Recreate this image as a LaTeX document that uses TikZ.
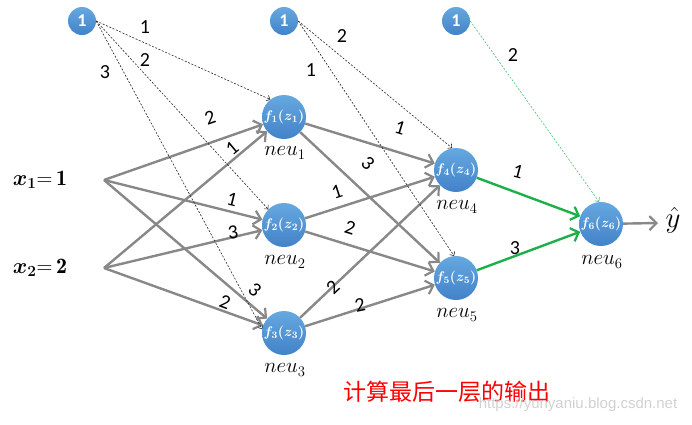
\RequirePackage{fix-cm}
\documentclass[tikz,border=0pt]{standalone}
\usepackage{amsmath}
\usepackage{bm}
\usepackage{fontspec}
\newfontfamily\cjk{Noto Sans CJK SC}
\newfontfamily\lab{Carlito}
\newfontfamily\wmfont{Liberation Sans}
\usetikzlibrary{arrows.meta}
\definecolor{nodetop}{HTML}{66A8E0}
\definecolor{nodebot}{HTML}{4282C8}
\definecolor{edgegray}{HTML}{888888}
\definecolor{edgegreen}{HTML}{1DAF4A}
\tikzset{
  neuron/.style={circle, minimum size=44pt, inner sep=0pt, top color=nodetop, bottom color=nodebot, text=white, font=\fontsize{14}{15}\selectfont},
  bias/.style={circle, minimum size=28pt, inner sep=0pt, top color=nodetop, bottom color=nodebot, text=white, font=\lab\bfseries\fontsize{18}{18}\selectfont},
  solidarrow/.style={draw=edgegray, line width=2.4pt, -{Straight Barb[length=7pt,width=14pt,line width=2.2pt]}},
  greenarrow/.style={draw=edgegreen, line width=2.4pt, -{Straight Barb[length=7pt,width=14pt,line width=2.2pt]}},
  biasarrow/.style={draw=black!85, line width=0.6pt, dash pattern=on 2pt off 1.6pt, -{Straight Barb[length=3pt,width=6pt,line width=0.6pt]}},
  greenbias/.style={draw=edgegreen!80, line width=0.6pt, dash pattern=on 2pt off 1.6pt, -{Straight Barb[length=3pt,width=6pt,line width=0.6pt]}},
  wlab/.style={font=\lab\fontsize{20}{20}\selectfont, inner sep=0pt},
  neulab/.style={font=\fontsize{21}{21}\selectfont, inner sep=0pt},
  inlab/.style={font=\fontsize{22}{22}\selectfont, inner sep=0pt},
}
\begin{document}
\begin{tikzpicture}[x=1pt,y=-1pt]
\useasboundingbox (0,0) rectangle (692,424);
% bias nodes
\node[bias] (b1) at (82,21) {1};
\node[bias] (b2) at (284,21) {1};
\node[bias] (b3) at (456,21) {1};
% neurons
\node[neuron] (n1) at (284,117) {$\bm{f_1(z_1)}$};
\node[neuron] (n2) at (284,225) {$\bm{f_2(z_2)}$};
\node[neuron] (n3) at (284,333) {$\bm{f_3(z_3)}$};
\node[neuron] (n4) at (456,170) {$\bm{f_4(z_4)}$};
\node[neuron] (n5) at (456,278) {$\bm{f_5(z_5)}$};
\node[neuron] (n6) at (601,224) {$\bm{f_6(z_6)}$};
% neuron names
\node[neulab] (t1) at (285,153) {$neu_1$};
\node[neulab] (t2) at (285,262) {$neu_2$};
\node[neulab] (t3) at (285,370) {$neu_3$};
\node[neulab] (t4) at (457,207) {$neu_4$};
\node[neulab] (t5) at (457,315) {$neu_5$};
\node[neulab] (t6) at (602,262) {$neu_6$};
% inputs
\node[inlab] (x1) at (40,180) {$\bm{x_1}\mathbf{=}\,\mathbf{1}$};
\node[inlab] (x2) at (40,268) {$\bm{x_2}\mathbf{=}\,\mathbf{2}$};
\coordinate (p1) at (104,180);
\coordinate (p2) at (104,268);
% output
\coordinate (yend) at (658,223);
\node[font=\fontsize{29}{29}\selectfont, inner sep=0pt] (yh) at (673,220) {$\hat{y}$};
% layer 1 edges
\draw[solidarrow] (p1) -- (n1);
\draw[solidarrow] (p1) -- (n2);
\draw[solidarrow] (p1) -- (n3);
\draw[solidarrow] (p2) -- (n1);
\draw[solidarrow] (p2) -- (n2);
\draw[solidarrow] (p2) -- (n3);
% layer 2 edges
\draw[solidarrow] (n1) -- (n4);
\draw[solidarrow] (n1) -- (n5);
\draw[solidarrow] (n2) -- (n4);
\draw[solidarrow] (n2) -- (n5);
\draw[solidarrow] (n3) -- (n4);
\draw[solidarrow] (n3) -- (n5);
% output layer
\draw[greenarrow] (n4) -- (n6);
\draw[greenarrow] (n5) -- (n6);
\draw[solidarrow] (n6) -- (yend);
% bias edges
\draw[biasarrow] (b1.east) -- (n1.128);
\draw[biasarrow] (b1.east) -- (n2.135);
\draw[biasarrow] (b1.east) -- (n3.170);
\draw[biasarrow] (b2.east) -- (n4.100);
\draw[biasarrow] (b2.east) -- (n5.95);
\draw[greenbias] (b3.east) -- (n6.95);
% weight labels, layer 1
\node[wlab, rotate=19] (w11) at (210,118) {2};
\node[wlab, rotate=40] (w21) at (232,148) {1};
\node[wlab, rotate=-14] (w12) at (232,199) {1};
\node[wlab, rotate=8] (w22) at (233,232) {3};
\node[wlab, rotate=-40] (w13) at (255,290) {3};
\node[wlab, rotate=-20] (w23) at (225,302) {2};
% weight labels, layer 2
\node[wlab, rotate=-17] (w14) at (400,128) {1};
\node[wlab, rotate=-43] (w15) at (368,163) {3};
\node[wlab, rotate=18] (w24) at (337,192) {1};
\node[wlab, rotate=-17] (w25) at (350,228) {2};
\node[wlab, rotate=43] (w34) at (333,287) {2};
\node[wlab, rotate=12] (w35) at (360,305) {2};
% weight labels, output layer
\node[wlab, rotate=-15] (w46) at (518,172) {1};
\node[wlab] (w56) at (515,248) {3};
% bias labels
\node[wlab] (bl1) at (145,27) {1};
\node[wlab] (bl2) at (145,60) {2};
\node[wlab] (bl3) at (105,72) {3};
\node[wlab] (bl4) at (342,36) {2};
\node[wlab] (bl5) at (311,70) {1};
\node[wlab] (bl6) at (513,55) {2};
% caption
\node[font=\cjk\fontsize{23}{25}\selectfont, text=red, inner sep=0pt] (cap) at (447,392) {计算最后一层的输出};
\node[font=\wmfont\fontsize{15}{15}\selectfont, text=black!18, inner sep=0pt] (wm) at (578,405) {https://yunyaniu.blog.csdn.net};
\end{tikzpicture}
\end{document}
